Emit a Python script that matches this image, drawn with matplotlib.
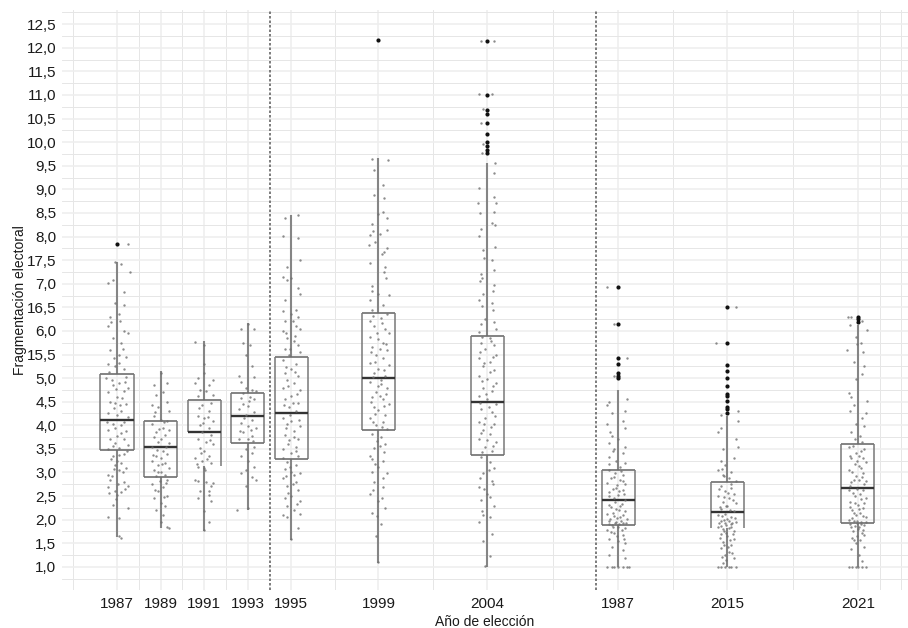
import matplotlib
matplotlib.use('Agg')
import matplotlib.pyplot as plt
from matplotlib.ticker import FixedLocator

plt.rcParams['font.family'] = ['Liberation Sans', 'DejaVu Sans']

# x position of each election on the axis; the ninth one is printed as 1987 in the source
x_pos = [1987, 1989, 1991, 1993, 1995, 1999, 2004, 2010, 2015, 2021]
x_labels = ['1987', '1989', '1991', '1993', '1995', '1999', '2004', '1987', '2015', '2021']
x_minor = [1985, 1988, 1990, 1992, 1997, 2001.5, 2007, 2012.5, 2018, 2022, 2023]

y_ticks = [1.0, 1.5, 2.0, 2.5, 3.0, 3.5, 4.0, 4.5, 5.0, 5.5, 6.0, 6.5, 7.0, 7.5, 8.0, 8.5,
           9.0, 9.5, 10.0, 10.5, 11.0, 11.5, 12.0, 12.5]
y_labels = ['1,0', '1,5', '2,0', '2,5', '3,0', '3,5', '4,0', '4,5', '5,0', '15,5', '6,0', '16,5',
            '7,0', '17,5', '8,0', '8,5', '9,0', '9,5', '10,0', '10,5', '11,0', '11,5', '12,0', '12,5']

q1 = [3.48, 2.91, 3.13, 3.62, 3.29, 3.90, 3.37, 1.89, 1.83, 1.94]
median = [4.12, 3.53, 3.85, 4.20, 4.25, 5.01, 4.50, 2.41, 2.16, 2.68]
q3 = [5.09, 4.10, 4.54, 4.69, 5.44, 6.38, 5.90, 3.06, 2.79, 3.61]
whisker_lo = [1.63, 1.82, 1.75, 2.21, 1.57, 1.08, 1.00, 1.00, 1.00, 1.00]
whisker_hi = [7.45, 5.14, 5.78, 6.17, 8.46, 9.67, 9.56, 4.75, 4.19, 6.13]

outliers = [
    [7.85], [], [], [], [],
    [12.17],
    [12.15, 11.0, 10.69, 10.6, 10.41, 10.18, 10.0, 9.91, 9.84, 9.77],
    [6.92, 6.15, 5.43, 5.30, 5.11, 5.05, 5.01],
    [6.50, 5.75, 5.28, 5.16, 5.01, 4.84, 4.67, 4.63, 4.51, 4.39, 4.34, 4.27],
    [6.29, 6.25, 6.19],
]

jitter_1987 = [
    (1987.5, 7.85), (1986.9, 7.45), (1987.2, 7.42), (1987.6, 7.25), (1986.6, 7.02), (1986.8, 7.08),
    (1987.3, 6.82), (1987.3, 6.55), (1986.9, 6.6), (1986.7, 6.3), (1987.1, 6.35), (1986.6, 6.1),
    (1987.3, 6.0), (1987.5, 5.95), (1986.8, 5.85), (1987.2, 5.75), (1986.7, 5.6), (1987.1, 5.5),
    (1987.4, 5.45), (1986.6, 5.3), (1986.9, 5.25), (1987.3, 5.2), (1986.5, 5.0), (1987.4, 5.02),
    (1986.8, 4.85), (1987.1, 4.9), (1987.5, 4.8), (1986.6, 4.7), (1987.3, 4.72), (1987.0, 4.6),
    (1986.7, 4.5), (1986.9, 4.48), (1987.4, 4.45), (1987.2, 4.3), (1986.6, 4.25), (1987.0, 4.22),
    (1987.5, 4.18), (1986.8, 4.02), (1987.2, 4.0), (1986.6, 3.9), (1987.4, 3.88), (1987.0, 3.78),
    (1986.7, 3.72), (1987.3, 3.7), (1986.9, 3.62), (1987.5, 3.58), (1986.6, 3.5), (1987.1, 3.52),
    (1987.3, 3.4), (1986.8, 3.35), (1987.0, 3.25), (1987.2, 3.2), (1987.4, 3.1), (1986.9, 3.15),
    (1986.6, 2.95), (1987.1, 3.05), (1986.7, 2.85), (1987.3, 2.8), (1987.5, 2.72), (1986.6, 2.7),
    (1986.9, 2.6), (1987.2, 2.58), (1987.0, 2.52), (1986.8, 2.32), (1987.5, 2.25), (1986.6, 2.05),
    (1987.1, 2.03), (1987.1, 1.66), (1987.2, 1.62),
    (1986.73, 6.18), (1987.16, 6.22), (1986.84, 5.42), (1987.27, 5.62), (1986.63, 5.13), (1987.08, 5.33),
    (1986.77, 4.96), (1987.38, 4.92), (1986.96, 4.76), (1987.23, 4.58), (1986.86, 4.36), (1987.12, 4.42),
    (1986.54, 4.08), (1987.33, 4.06), (1986.93, 3.94), (1987.18, 3.84), (1986.82, 3.56), (1987.44, 3.46),
    (1986.71, 3.28), (1987.07, 3.37), (1986.88, 3.08), (1987.26, 3.02), (1986.76, 2.92), (1987.36, 2.64),
    (1986.64, 2.56), (1987.04, 2.76), (1986.94, 2.44),
]
jitter_1989 = [
    (1989.0, 5.1), (1988.7, 4.85), (1989.3, 4.9), (1988.8, 4.65), (1989.1, 4.7), (1989.3, 4.5),
    (1988.6, 4.42), (1988.9, 4.38), (1989.4, 4.3), (1988.7, 4.2), (1989.0, 4.12), (1989.3, 4.1),
    (1988.6, 4.02), (1989.1, 3.95), (1989.4, 3.9), (1988.8, 3.85), (1989.2, 3.8), (1988.7, 3.75),
    (1989.0, 3.7), (1988.9, 3.65), (1989.4, 3.62), (1988.6, 3.55), (1989.1, 3.45), (1989.3, 3.4),
    (1988.8, 3.35), (1989.0, 3.3), (1988.6, 3.25), (1989.2, 3.2), (1988.9, 3.15), (1989.4, 3.1),
    (1988.7, 3.05), (1989.0, 3.0), (1989.2, 2.95), (1988.8, 2.92), (1989.3, 2.85), (1988.6, 2.75),
    (1989.1, 2.7), (1988.9, 2.6), (1989.3, 2.5), (1988.7, 2.45), (1989.0, 2.35), (1989.2, 2.3),
    (1988.8, 2.2), (1989.1, 2.1), (1989.0, 1.95), (1989.3, 1.85), (1989.4, 1.82),
    (1988.76, 4.28), (1989.17, 4.06), (1988.94, 3.92), (1988.83, 3.48), (1989.24, 3.54), (1988.64, 3.38),
    (1989.07, 3.18), (1988.86, 3.02), (1989.27, 2.78), (1988.97, 2.82), (1988.73, 2.62), (1989.16, 2.48),
]
jitter_1991 = [
    (1990.6, 5.77), (1991.0, 5.7), (1991.0, 5.3), (1990.7, 5.0), (1991.0, 5.1), (1991.4, 4.95),
    (1990.6, 4.9), (1991.2, 4.85), (1990.8, 4.75), (1991.1, 4.72), (1991.4, 4.65), (1990.7, 4.62),
    (1991.3, 4.48), (1990.9, 4.42), (1991.2, 4.3), (1990.7, 4.2), (1991.0, 4.15), (1991.4, 4.1),
    (1990.8, 4.0), (1991.2, 3.95), (1990.9, 3.85), (1991.3, 3.8), (1990.7, 3.7), (1991.1, 3.65),
    (1991.4, 3.6), (1990.8, 3.52), (1991.0, 3.45), (1990.6, 3.3), (1991.2, 3.35), (1990.9, 3.25),
    (1991.3, 3.2), (1990.7, 3.12), (1991.0, 3.1), (1990.6, 2.85), (1991.1, 2.8), (1991.3, 2.72),
    (1991.4, 2.78), (1990.8, 2.6), (1991.2, 2.6), (1990.7, 2.45), (1991.3, 2.4), (1991.0, 2.18),
    (1991.2, 1.95), (1991.0, 1.78),
    (1990.76, 4.36), (1991.16, 4.18), (1990.94, 4.04), (1991.27, 3.68), (1990.84, 3.42), (1991.13, 3.28),
    (1990.66, 3.18), (1991.06, 3.05), (1990.74, 2.82), (1991.24, 2.52),
]
jitter_1993 = [
    (1993.0, 6.15), (1992.7, 6.05), (1993.3, 6.05), (1992.8, 5.75), (1993.1, 5.7), (1992.9, 5.5),
    (1993.2, 5.25), (1992.6, 5.05), (1993.3, 5.03), (1992.7, 4.92), (1992.9, 4.78), (1993.2, 4.75),
    (1993.4, 4.72), (1992.7, 4.58), (1993.1, 4.6), (1993.3, 4.55), (1992.8, 4.45), (1992.6, 4.35),
    (1993.0, 4.4), (1993.3, 4.28), (1992.9, 4.22), (1993.2, 4.12), (1992.7, 4.05), (1993.0, 3.98),
    (1993.4, 3.95), (1992.8, 3.85), (1993.2, 3.78), (1992.6, 3.72), (1993.0, 3.7), (1993.3, 3.55),
    (1992.9, 3.5), (1993.2, 3.42), (1992.7, 3.35), (1993.0, 3.25), (1993.3, 3.12), (1992.9, 3.05),
    (1992.7, 2.98), (1993.2, 2.9), (1993.4, 2.85), (1992.9, 2.72), (1992.5, 2.2), (1993.0, 2.25),
    (1992.76, 4.68), (1993.06, 4.52), (1992.84, 4.16), (1993.14, 3.9), (1992.66, 3.88), (1993.24, 3.66),
]
jitter_1995 = [
    (1994.7, 8.4), (1995.3, 8.45), (1994.6, 8.02), (1995.3, 7.97), (1995.4, 7.5), (1994.8, 7.35),
    (1994.6, 7.15), (1994.8, 7.08), (1995.0, 7.12), (1995.3, 6.9), (1995.4, 6.78), (1994.7, 6.65),
    (1994.6, 6.42), (1995.2, 6.45), (1995.3, 6.3), (1995.0, 6.35), (1994.7, 6.2), (1995.2, 6.1),
    (1994.6, 6.0), (1995.4, 6.05), (1994.8, 5.85), (1995.1, 5.78), (1995.3, 5.7), (1994.7, 5.62),
    (1995.4, 5.55), (1994.9, 5.5), (1994.6, 5.38), (1995.2, 5.3), (1995.0, 5.2), (1994.7, 5.1),
    (1995.3, 5.05), (1994.8, 4.95), (1995.1, 4.9), (1994.6, 4.8), (1995.4, 4.75), (1995.0, 4.62),
    (1994.7, 4.55), (1995.3, 4.48), (1994.9, 4.38), (1995.2, 4.3), (1994.6, 4.15), (1995.0, 4.1),
    (1994.8, 4.02), (1995.4, 3.98), (1995.1, 3.88), (1994.7, 3.8), (1995.3, 3.72), (1994.9, 3.68),
    (1995.2, 3.55), (1994.6, 3.5), (1995.0, 3.42), (1995.3, 3.35), (1994.8, 3.22), (1995.2, 3.15),
    (1994.7, 3.08), (1995.0, 3.02), (1995.4, 2.98), (1994.6, 2.88), (1995.2, 2.8), (1994.8, 2.72),
    (1995.3, 2.62), (1994.7, 2.45), (1995.0, 2.5), (1995.4, 2.4), (1994.8, 2.3), (1995.1, 2.2),
    (1994.6, 2.1), (1994.8, 2.05), (1995.4, 2.12), (1995.3, 1.82), (1995.0, 1.6),
    (1994.76, 5.24), (1995.16, 5.12), (1994.86, 4.84), (1995.26, 4.66), (1994.66, 4.42), (1995.08, 4.48),
    (1994.93, 4.22), (1995.34, 4.12), (1994.74, 3.94), (1995.13, 3.76), (1994.84, 3.6), (1995.23, 3.46),
    (1994.64, 3.3), (1994.94, 3.12), (1995.14, 2.94), (1994.77, 2.92), (1995.07, 2.76), (1994.86, 2.56),
    (1995.24, 2.34), (1994.93, 5.62), (1995.16, 5.9), (1994.74, 5.96), (1995.06, 6.2),
]
jitter_1999 = [
    (1998.7, 9.65), (1999.44, 9.62), (1998.8, 9.4), (1999.2, 9.09), (1998.8, 8.89), (1999.25, 8.81),
    (1999.2, 8.53), (1999.0, 8.48), (1999.4, 8.39), (1998.7, 8.27), (1999.4, 8.13), (1998.75, 8.12),
    (1998.6, 8.03), (1999.05, 8.06), (1998.55, 7.81), (1998.85, 7.88), (1999.4, 7.75), (1999.25, 7.68),
    (1999.15, 7.62), (1998.6, 7.44), (1999.3, 7.35), (1999.25, 7.25), (1999.35, 7.13), (1998.7, 6.96),
    (1998.7, 6.84), (1998.6, 6.65), (1999.5, 6.77), (1999.2, 6.55), (1999.0, 6.78), (1998.7, 6.45),
    (1999.4, 6.35), (1998.6, 6.22), (1999.1, 6.28), (1998.8, 6.1), (1999.3, 6.05), (1999.5, 5.95),
    (1998.6, 5.88), (1999.0, 5.82), (1999.2, 5.75), (1998.7, 5.65), (1999.4, 5.6), (1998.9, 5.5),
    (1999.2, 5.42), (1998.6, 5.32), (1999.5, 5.28), (1999.0, 5.2), (1998.8, 5.1), (1999.3, 5.05),
    (1998.6, 4.92), (1999.1, 4.88), (1999.4, 4.78), (1998.9, 4.7), (1998.7, 4.6), (1999.2, 4.55),
    (1999.5, 4.45), (1998.8, 4.38), (1999.0, 4.32), (1999.3, 4.22), (1998.6, 4.15), (1999.2, 4.08),
    (1998.9, 4.0), (1999.4, 3.92), (1998.7, 3.82), (1999.1, 3.75), (1999.3, 3.6), (1998.8, 3.52),
    (1998.6, 3.35), (1999.2, 3.25), (1999.0, 3.12), (1998.7, 3.02), (1999.4, 2.98), (1998.8, 2.8),
    (1999.2, 2.7), (1998.6, 2.55), (1999.0, 2.4), (1999.3, 2.25), (1998.7, 2.15), (1999.1, 1.9),
    (1998.9, 1.65), (1999.0, 1.1),
    (1998.76, 6.32), (1999.16, 6.16), (1998.93, 5.96), (1999.33, 5.72), (1998.67, 5.56), (1999.07, 5.62),
    (1998.84, 5.34), (1999.27, 5.18), (1998.74, 5.02), (1999.13, 4.96), (1998.96, 4.84), (1999.36, 4.66),
    (1998.64, 4.5), (1999.06, 4.62), (1998.86, 4.24), (1999.24, 4.4), (1998.73, 4.06), (1999.14, 3.96),
    (1998.94, 3.66), (1999.26, 3.44), (1998.68, 3.28), (1999.08, 3.56), (1998.84, 3.18), (1999.23, 2.88),
    (1998.76, 2.62), (1999.16, 2.46), (1998.93, 2.08),
]
jitter_2004 = [
    (2003.7, 12.15), (2004.3, 12.15), (2003.6, 11.02), (2004.2, 11.02), (2003.8, 10.7), (2003.7, 10.4),
    (2003.8, 9.95), (2003.75, 9.77), (2004.35, 9.55), (2004.3, 9.35), (2003.6, 9.03), (2004.3, 8.83),
    (2004.4, 8.7), (2003.55, 8.7), (2003.65, 8.5), (2004.3, 8.52), (2004.2, 8.28), (2004.35, 8.25),
    (2003.7, 8.15), (2003.6, 8.02), (2004.35, 7.78), (2003.8, 7.72), (2003.85, 7.55), (2004.2, 7.5),
    (2004.3, 7.3), (2003.7, 7.2), (2003.75, 7.12), (2003.65, 7.05), (2004.3, 6.98), (2004.25, 6.85),
    (2003.8, 6.78), (2003.6, 6.65), (2004.2, 6.6), (2003.75, 6.52), (2004.25, 6.45), (2003.9, 6.25),
    (2004.3, 6.18), (2003.7, 6.15), (2004.4, 6.05), (2003.6, 5.98), (2004.1, 5.85), (2003.7, 5.75),
    (2004.3, 5.7), (2003.9, 5.62), (2004.4, 5.5), (2003.6, 5.42), (2004.1, 5.35), (2003.8, 5.25),
    (2004.3, 5.18), (2003.6, 5.05), (2004.0, 4.98), (2004.4, 4.9), (2003.8, 4.8), (2004.2, 4.72),
    (2003.6, 4.62), (2004.0, 4.55), (2004.4, 4.45), (2003.7, 4.35), (2004.2, 4.28), (2003.9, 4.15),
    (2003.6, 4.08), (2004.3, 4.02), (2003.8, 3.9), (2004.1, 3.82), (2003.6, 3.72), (2004.4, 3.65),
    (2003.9, 3.55), (2004.2, 3.45), (2003.7, 3.32), (2004.1, 3.22), (2004.3, 3.1), (2003.8, 2.98),
    (2004.2, 2.82), (2003.6, 2.7), (2004.0, 2.55), (2003.7, 2.42), (2004.3, 2.3), (2003.8, 2.1),
    (2004.1, 2.05), (2003.6, 1.95), (2004.2, 1.7), (2003.8, 1.55), (2004.1, 1.22), (2003.9, 1.02),
    (2003.76, 5.88), (2004.16, 5.78), (2003.67, 5.56), (2004.24, 5.44), (2003.86, 5.32), (2004.13, 5.12),
    (2003.74, 4.94), (2004.27, 4.84), (2003.93, 4.66), (2003.66, 4.48), (2004.07, 4.38), (2004.33, 4.2),
    (2003.84, 4.02), (2004.17, 3.96), (2003.7, 3.84), (2003.96, 3.68), (2004.26, 3.56), (2003.76, 3.44),
    (2004.06, 3.06), (2003.64, 2.88), (2004.24, 2.76), (2003.86, 2.64), (2004.14, 2.48), (2003.74, 2.18),
]
jitter_2010 = [
    (2009.5, 6.92), (2009.8, 6.15), (2010.4, 5.43), (2009.8, 5.05), (2010.4, 4.55), (2009.6, 4.5),
    (2009.5, 4.42), (2010.3, 4.3), (2009.7, 4.25), (2010.2, 4.1), (2009.5, 4.02), (2010.3, 3.95),
    (2009.7, 3.78), (2010.0, 3.7), (2009.6, 3.62), (2010.3, 3.55), (2009.8, 3.5), (2010.2, 3.42),
    (2009.6, 3.32), (2009.9, 3.25), (2010.3, 3.2), (2010.1, 3.12), (2009.6, 3.05), (2010.2, 2.95),
    (2009.8, 2.9), (2010.1, 2.85), (2009.5, 2.78), (2010.3, 2.75), (2009.9, 2.68), (2010.2, 2.62),
    (2009.6, 2.58), (2010.0, 2.52), (2009.8, 2.46), (2010.3, 2.42), (2009.6, 2.32), (2010.1, 2.28),
    (2009.9, 2.22), (2010.3, 2.18), (2009.5, 2.12), (2009.8, 2.08), (2010.1, 2.05), (2010.4, 2.02),
    (2009.6, 1.98), (2009.9, 1.95), (2010.2, 1.92), (2009.7, 1.88), (2010.0, 1.85), (2010.3, 1.82),
    (2009.5, 1.78), (2009.8, 1.72), (2010.2, 1.68), (2009.6, 1.6), (2010.0, 1.55), (2010.3, 1.5),
    (2009.7, 1.42), (2010.2, 1.35), (2009.6, 1.25), (2010.3, 1.18), (2009.5, 1.0), (2009.7, 1.0),
    (2009.8, 1.0), (2010.0, 1.0), (2010.2, 1.0), (2010.4, 1.0), (2010.5, 1.0),
    (2009.64, 3.86), (2009.76, 3.46), (2009.56, 3.18), (2010.14, 3.04), (2009.86, 2.98), (2009.66, 2.88),
    (2010.24, 2.82), (2009.94, 2.74), (2009.74, 2.64), (2010.06, 2.6), (2010.27, 2.54), (2009.56, 2.5),
    (2009.87, 2.38), (2010.16, 2.34), (2009.68, 2.26), (2010.04, 2.2), (2009.76, 2.14), (2010.24, 2.1),
    (2009.93, 2.04), (2009.64, 2.02), (2010.13, 1.98), (2009.84, 1.92), (2010.34, 1.94), (2009.57, 1.9),
    (2010.06, 1.9), (2009.76, 1.84), (2010.17, 1.78), (2009.67, 1.74), (2009.94, 1.66), (2010.26, 1.6),
]
jitter_2015 = [
    (2015.4, 6.5), (2014.5, 5.75), (2014.7, 4.22), (2015.5, 4.3), (2015.5, 4.1), (2014.7, 3.95),
    (2014.6, 3.85), (2015.4, 3.72), (2015.5, 3.55), (2014.8, 3.5), (2015.3, 3.3), (2014.7, 3.25),
    (2014.9, 3.15), (2014.6, 3.05), (2015.2, 3.02), (2014.8, 2.95), (2015.1, 2.88), (2015.4, 2.82),
    (2014.7, 2.72), (2015.2, 2.68), (2014.9, 2.6), (2015.3, 2.55), (2014.6, 2.5), (2015.1, 2.45),
    (2014.8, 2.38), (2015.4, 2.35), (2015.0, 2.28), (2014.7, 2.22), (2015.3, 2.18), (2014.9, 2.12),
    (2014.6, 2.1), (2015.2, 2.06), (2015.0, 2.02), (2014.7, 1.98), (2015.4, 1.96), (2014.9, 1.92),
    (2015.2, 1.9), (2014.6, 1.85), (2015.1, 1.82), (2014.8, 1.8), (2015.3, 1.75), (2014.7, 1.7),
    (2015.0, 1.66), (2015.3, 1.6), (2014.8, 1.52), (2015.2, 1.46), (2014.7, 1.4), (2015.1, 1.32),
    (2014.9, 1.25), (2015.3, 1.18), (2014.8, 1.08), (2014.6, 1.0), (2014.7, 1.0), (2014.9, 1.0),
    (2015.1, 1.0), (2015.2, 1.0), (2015.4, 1.0),
    (2014.76, 3.08), (2014.86, 2.92), (2015.16, 2.76), (2014.64, 2.64), (2015.06, 2.56), (2014.84, 2.48),
    (2015.27, 2.42), (2014.94, 2.3), (2014.66, 2.26), (2015.14, 2.2), (2014.76, 2.08), (2015.34, 2.04),
    (2014.86, 2.0), (2015.07, 1.97), (2014.64, 1.94), (2015.24, 1.94), (2014.96, 1.88), (2014.74, 1.86),
    (2015.16, 1.84), (2014.84, 1.76), (2015.26, 1.7), (2014.94, 1.72), (2014.66, 1.62), (2015.14, 1.58),
    (2014.86, 1.46), (2015.04, 1.42), (2015.24, 1.3), (2014.76, 1.2), (2014.96, 1.14),
]
jitter_2021 = [
    (2020.55, 6.3), (2020.7, 6.3), (2020.65, 6.12), (2021.2, 6.2), (2021.4, 6.02), (2020.9, 5.88),
    (2021.15, 5.75), (2020.95, 5.72), (2020.5, 5.6), (2021.25, 5.55), (2020.8, 5.35), (2021.3, 5.25),
    (2021.2, 5.08), (2020.9, 4.98), (2020.6, 4.68), (2020.7, 4.6), (2021.4, 4.52), (2020.8, 4.42),
    (2020.65, 4.3), (2021.35, 4.25), (2021.2, 4.15), (2020.9, 4.02), (2021.3, 3.98), (2020.7, 3.85),
    (2021.1, 3.78), (2020.85, 3.72), (2021.2, 3.65), (2020.6, 3.55), (2021.3, 3.5), (2020.9, 3.42),
    (2021.05, 3.35), (2020.7, 3.3), (2021.35, 3.22), (2020.85, 3.18), (2021.15, 3.1), (2020.6, 3.05),
    (2021.25, 2.98), (2020.9, 2.92), (2021.05, 2.85), (2020.7, 2.8), (2021.3, 2.75), (2020.6, 2.62),
    (2021.1, 2.55), (2020.85, 2.5), (2021.35, 2.45), (2020.65, 2.38), (2021.0, 2.32), (2021.25, 2.25),
    (2020.75, 2.2), (2021.1, 2.15), (2020.9, 2.1), (2021.35, 2.05), (2020.6, 2.0), (2020.8, 1.98),
    (2021.15, 1.95), (2020.95, 1.92), (2021.3, 1.88), (2020.7, 1.85), (2021.0, 1.8), (2021.2, 1.72),
    (2020.75, 1.62), (2021.1, 1.58), (2020.9, 1.5), (2021.3, 1.42), (2020.7, 1.38), (2021.05, 1.25),
    (2021.2, 1.12), (2020.6, 1.0), (2020.75, 1.0), (2020.9, 1.0), (2021.0, 1.0), (2021.2, 1.0),
    (2021.35, 1.0),
    (2020.76, 3.56), (2021.14, 3.46), (2020.66, 3.36), (2021.24, 3.3), (2020.94, 3.24), (2021.06, 3.14),
    (2020.74, 3.0), (2021.17, 2.9), (2020.84, 2.84), (2021.36, 2.82), (2020.64, 2.72), (2020.97, 2.66),
    (2021.24, 2.62), (2020.76, 2.56), (2021.13, 2.44), (2020.86, 2.36), (2021.27, 2.36), (2020.66, 2.26),
    (2021.04, 2.22), (2020.84, 2.14), (2021.24, 2.08), (2020.74, 2.04), (2020.96, 1.98), (2021.14, 1.9),
    (2020.66, 1.9), (2021.36, 1.96), (2020.86, 1.86), (2021.06, 1.84), (2021.24, 1.78), (2020.76, 1.76),
    (2020.96, 1.66), (2021.3, 1.68), (2020.84, 1.56),
]
jitter = [jitter_1987, jitter_1989, jitter_1991, jitter_1993, jitter_1995,
          jitter_1999, jitter_2004, jitter_2010, jitter_2015, jitter_2021]

fig = plt.figure(figsize=(9.08, 6.28), dpi=100)
ax = fig.add_axes([62 / 908, 38 / 628, 846 / 908, 580 / 628])
ax.set_xlim(1984.476, 2023.3)
ax.set_ylim(0.51, 12.8)
for s in ax.spines.values():
    s.set_visible(False)

ax.set_xticks(x_pos)
ax.set_xticklabels(x_labels)
ax.xaxis.set_minor_locator(FixedLocator(x_minor))
ax.set_yticks(y_ticks)
ax.set_yticklabels(y_labels)
ax.yaxis.set_minor_locator(FixedLocator([t + 0.25 for t in y_ticks] + [0.75]))
ax.tick_params(which='both', length=0)
ax.tick_params(axis='x', which='major', labelsize=11, labelcolor='#1a1a1a', pad=5)
ax.tick_params(axis='y', which='major', labelsize=11, labelcolor='#1a1a1a', pad=4)
ax.grid(which='major', color='#eeeeee', linewidth=1.1)
ax.grid(which='minor', color='#e6e6e6', linewidth=0.7)
ax.set_axisbelow(True)

ax.set_xlabel('Año de elección', fontsize=10, color='#1a1a1a', labelpad=3)
ax.set_ylabel('Fragmentación electoral', fontsize=10, color='#1a1a1a', labelpad=0)

ax.axvline(1994, color='#666666', linewidth=1.2, linestyle=(0, (1.5, 1.2)), zorder=2)
ax.axvline(2009, color='#666666', linewidth=1.2, linestyle=(0, (1.5, 1.2)), zorder=2)

half = 0.76
for i, x in enumerate(x_pos):
    ax.vlines(x, whisker_lo[i], q1[i], color='#858585', linewidth=1.5, zorder=3)
    ax.vlines(x, q3[i], whisker_hi[i], color='#858585', linewidth=1.5, zorder=3)
    ax.hlines(q3[i], x - half, x + half, color='#6e6e6e', linewidth=1.2, zorder=4)
    ax.hlines(median[i], x - half, x + half, color='#333333', linewidth=1.7, zorder=5)
    ax.vlines(x + half, q1[i], q3[i], color='#787878', linewidth=1.1, zorder=4)
    # the source has no bottom edge on two of the boxes
    if x == 1991:
        ax.vlines(x - half, median[i], q3[i], color='#787878', linewidth=1.1, zorder=4)
    else:
        ax.vlines(x - half, q1[i], q3[i], color='#787878', linewidth=1.1, zorder=4)
    if x != 1991 and x != 2015:
        ax.hlines(q1[i], x - half, x + half, color='#6e6e6e', linewidth=1.2, zorder=4)
    if outliers[i]:
        ax.scatter([x] * len(outliers[i]), outliers[i], s=9, color='#111111', linewidths=0, zorder=6)
    ax.scatter([p[0] for p in jitter[i]], [p[1] for p in jitter[i]], s=3, color='#707070',
               linewidths=0, alpha=0.8, zorder=5)

plt.savefig('out.png', dpi=100)
